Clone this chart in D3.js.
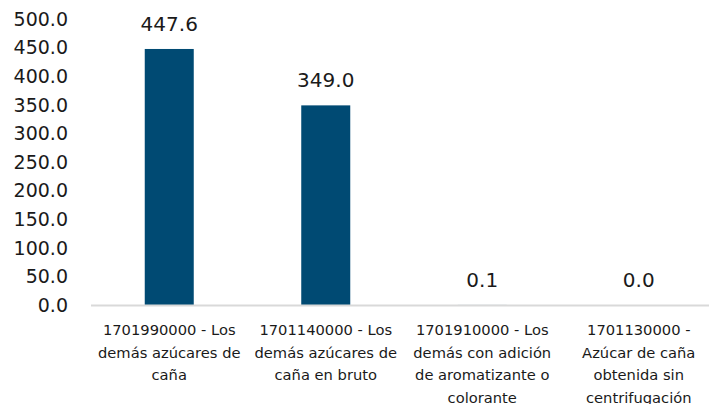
<!DOCTYPE html>
<html lang="es">
<head>
<meta charset="UTF-8">
<title></title>
<script src="https://d3js.org/d3.v7.min.js"></script>
<style>
    body { margin: 0; background: #fff; overflow: hidden; }
    svg text { font-family: "DejaVu Sans", sans-serif; fill: #1a1a1a; }
</style>
</head>
<body>
<svg id="chart" width="709" height="404"></svg>
<script>
    // data
    var categories = [
        ["1701990000 - Los", "demás azúcares de", "caña"],
        ["1701140000 - Los", "demás azúcares de", "caña en bruto"],
        ["1701910000 - Los", "demás con adición", "de aromatizante o", "colorante"],
        ["1701130000 -", "Azúcar de caña", "obtenida sin", "centrifugación"]
    ];
    var values = [447.6, 349.0, 0.1, 0.0];
    var yTicks = [0, 50, 100, 150, 200, 250, 300, 350, 400, 450, 500];

    var svg = d3.select("#chart");
    var x = d3.scaleBand().domain(d3.range(categories.length)).range([91, 717]);
    var y = d3.scaleLinear().domain([0, 500]).range([305, 19]);
    var barW = 49;

    // y labels
    svg.append("g").selectAll("text")
        .data(yTicks)
        .join("text")
        .attr("x", 68)
        .attr("y", d => y(d))
        .attr("dy", "0.36em")
        .attr("text-anchor", "end")
        .style("font-size", "19px")
        .text(d => d.toFixed(1));

    // bars
    svg.append("g").selectAll("rect")
        .data(values)
        .join("rect")
        .attr("x", (d, i) => x(i) + x.bandwidth() / 2 - barW / 2)
        .attr("y", d => y(d))
        .attr("width", barW)
        .attr("height", d => y(0) - y(d))
        .style("fill", "#004a73");

    // baseline
    svg.append("line")
        .attr("x1", 91).attr("x2", 709)
        .attr("y1", y(0) + 0.5).attr("y2", y(0) + 0.5)
        .style("stroke", "#d9d9d9")
        .style("stroke-width", 2);

    // value labels
    svg.append("g").selectAll("text")
        .data(values)
        .join("text")
        .attr("x", (d, i) => x(i) + x.bandwidth() / 2)
        .attr("y", d => y(d) - 18)
        .attr("text-anchor", "middle")
        .style("font-size", "20px")
        .text(d => d.toFixed(1));

    // category labels
    var cat = svg.append("g").selectAll("text")
        .data(categories)
        .join("text")
        .attr("text-anchor", "middle")
        .style("font-size", "14.7px");
    cat.selectAll("tspan")
        .data((d, i) => d.map(s => ({s: s, i: i})))
        .join("tspan")
        .attr("x", d => x(d.i) + x.bandwidth() / 2)
        .attr("y", (d, j) => 335 + j * 22.5)
        .text(d => d.s);
</script>
</body>
</html>
